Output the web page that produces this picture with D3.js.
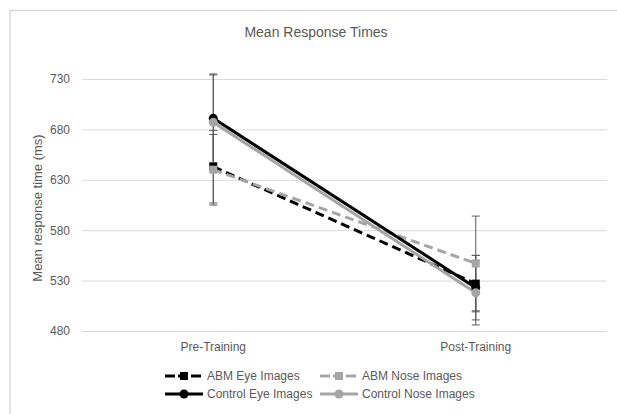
<!DOCTYPE html>
<html>
<head>
<meta charset="utf-8">
<script src="https://cdn.jsdelivr.net/npm/d3@7"></script>
<style>
  body { margin: 0; background: #fff; }
  text { font-family: "Liberation Sans", Arial, sans-serif; fill: #595959; }
</style>
</head>
<body>
<svg id="chart" width="617" height="414"></svg>
<script>
// data
var categories = ["Pre-Training", "Post-Training"];
var seriesNames = ["ABM Eye Images", "ABM Nose Images", "Control Eye Images", "Control Nose Images"];
var abmEye = [643, 527];
var abmNose = [640, 547];
var controlEye = [691, 523];
var controlNose = [687, 518];
var abmEyeErr = [36, 28];
var abmNoseErr = [35, 47];
var controlEyeErr = [44, 32];
var controlNoseErr = [47, 32];
var yTicks = [480, 530, 580, 630, 680, 730];

var series = [
  { name: seriesNames[0], values: abmEye, err: abmEyeErr, color: "#000", dash: "9,5", marker: "square" },
  { name: seriesNames[1], values: abmNose, err: abmNoseErr, color: "#a5a5a5", dash: "9,5", marker: "square" },
  { name: seriesNames[2], values: controlEye, err: controlEyeErr, color: "#000", dash: null, marker: "circle" },
  { name: seriesNames[3], values: controlNose, err: controlNoseErr, color: "#a5a5a5", dash: null, marker: "circle" }
];

var svg = d3.select("#chart");

// chart border (only left and top visible in picture)
svg.append("rect")
  .attr("x", 10).attr("y", 10.5)
  .attr("width", 640).attr("height", 420)
  .attr("fill", "none").attr("stroke", "#d9d9d9").attr("stroke-width", 1.5);

var plotLeft = 82, plotRight = 607, plotTop = 79, plotBottom = 331;

var x = d3.scaleBand().domain(categories).range([plotLeft, plotRight]);
var y = d3.scaleLinear().domain([480, 730]).range([plotBottom, plotTop]);

// gridlines
svg.append("g").selectAll("line").data(yTicks).join("line")
  .attr("x1", plotLeft).attr("x2", plotRight)
  .attr("y1", d => y(d) + 0.5).attr("y2", d => y(d) + 0.5)
  .attr("stroke", "#d9d9d9").attr("stroke-width", 1);

// y axis
var yAxis = svg.append("g")
  .attr("transform", "translate(" + (plotLeft - 6) + ",0)")
  .call(d3.axisLeft(y).tickValues(yTicks).tickSize(0).tickPadding(6));
yAxis.select(".domain").remove();
yAxis.selectAll("text").style("font-size", "12px").style("fill", "#595959")
  .style("font-family", "Liberation Sans, Arial, sans-serif");

// x axis labels
var xAxis = svg.append("g")
  .attr("transform", "translate(0," + (plotBottom + 5) + ")")
  .call(d3.axisBottom(x).tickSize(0).tickPadding(6));
xAxis.select(".domain").remove();
xAxis.selectAll("text").style("font-size", "12px").style("fill", "#595959")
  .style("font-family", "Liberation Sans, Arial, sans-serif");

// title
svg.append("text")
  .attr("x", 316).attr("y", 37)
  .attr("text-anchor", "middle")
  .style("font-size", "14px")
  .text("Mean Response Times");

// y axis title
svg.append("text")
  .attr("transform", "translate(42," + 208 + ") rotate(-90)")
  .attr("text-anchor", "middle")
  .style("font-size", "13px")
  .text("Mean response time (ms)");

var cx = d => x(d) + x.bandwidth() / 2;

var line = d3.line()
  .x((d, i) => cx(categories[i]))
  .y(d => y(d));

// lines
svg.append("g").selectAll("path").data(series).join("path")
  .attr("d", s => line(s.values))
  .attr("fill", "none")
  .attr("stroke", s => s.color)
  .attr("stroke-width", 3)
  .attr("stroke-dasharray", s => s.dash);

// error bars
var eb = svg.append("g").attr("stroke", "#595959").attr("stroke-width", 1);
series.forEach(function(s) {
  s.values.forEach(function(v, i) {
    var px = cx(categories[i]);
    var hi = y(v + s.err[i]), lo = y(v - s.err[i]);
    eb.append("line").attr("x1", px).attr("x2", px).attr("y1", hi).attr("y2", lo);
    eb.append("line").attr("x1", px - 4).attr("x2", px + 4).attr("y1", hi).attr("y2", hi);
    eb.append("line").attr("x1", px - 4).attr("x2", px + 4).attr("y1", lo).attr("y2", lo);
  });
});

// markers
function drawMarker(g, s, px, py) {
  if (s.marker === "square") {
    g.append("rect").attr("x", px - 4).attr("y", py - 4).attr("width", 8).attr("height", 8)
      .attr("fill", s.color);
  } else {
    g.append("circle").attr("cx", px).attr("cy", py).attr("r", 4.5).attr("fill", s.color);
  }
}
var mk = svg.append("g");
series.forEach(function(s) {
  s.values.forEach(function(v, i) {
    drawMarker(mk, s, cx(categories[i]), y(v));
  });
});

// legend
var legPos = [[165, 376], [320, 376], [165, 394], [320, 394]];
var leg = svg.append("g");
series.forEach(function(s, i) {
  var lx = legPos[i][0], ly = legPos[i][1];
  var w = 38;
  leg.append("line")
    .attr("x1", lx).attr("x2", lx + w).attr("y1", ly).attr("y2", ly)
    .attr("stroke", s.color).attr("stroke-width", 3)
    .attr("stroke-dasharray", s.dash ? "10,3" : null);
  drawMarker(leg, s, lx + w / 2, ly);
  leg.append("text")
    .attr("x", lx + w + 4).attr("y", ly + 4)
    .style("font-size", "12px")
    .text(s.name);
});
</script>
</body>
</html>
